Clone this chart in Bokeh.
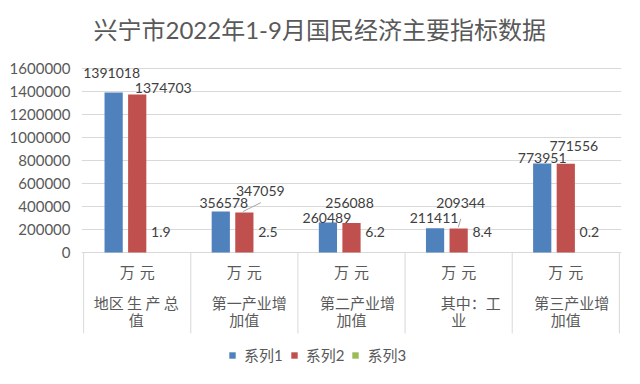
from bokeh.plotting import figure
from bokeh.models import (ColumnDataSource, FactorRange, Range1d, FixedTicker,
                          NumeralTickFormatter, Legend, LegendItem, Title)
from bokeh.transform import dodge
from bokeh.core.properties import value
from bokeh.embed import file_html
from bokeh.resources import INLINE

# ---------------- data ----------------
TITLE = "兴宁市2022年1-9月国民经济主要指标数据"
CATS = ["地区生产总值", "第一产业增加值", "第二产业增加值", "其中：工业", "第三产业增加值"]
UNITS = ["万\u2004元"] * 5
CAT_LINE1 = ["地区 生 产 总", "第一产业增", "第二产业增", "其中：工", "第三产业增"]
CAT_LINE2 = ["值", "加值", "加值", "业", "加值"]
SERIES_NAMES = ["系列1", "系列2", "系列3"]
S1 = [1391018, 356578, 260489, 211411, 773951]
S2 = [1374703, 347059, 256088, 209344, 771556]
S3 = [1.9, 2.5, 6.2, 8.4, 0.2]
YTICKS = [0, 200000, 400000, 600000, 800000, 1000000, 1200000, 1400000, 1600000]

# ---------------- style / layout ----------------
COLORS = ["#4f81bd", "#c0504d", "#9bbb59"]
TEXT = "#595959"
LABEL = "#404040"
GRID = "#d9d9d9"
NUM_FONT = "Lato"
CJK_FONT = "Noto Sans CJK SC"
MIX_FONT = "Lato, 'Noto Sans CJK SC'"

W, H = 624, 368
B_LEFT, B_RIGHT, B_TOP, B_BOTTOM = 81, 3, 60, 0
PLOT_PX = 184          # pixels from 0 to top tick
TOP_PAD_PX = 8
FRAME_H = H - B_TOP - B_BOTTOM
UPP = YTICKS[-1] / PLOT_PX
Y_END = YTICKS[-1] + TOP_PAD_PX * UPP
Y_START = -(FRAME_H - PLOT_PX - TOP_PAD_PX) * UPP

OFFS = [-0.22, 0.0, 0.22]
BAR_W = 0.17
# label pixel offsets (relative to bar top centre)
DX = [[-2, 3, -1, -1, 0], [26, 16, -2, 2, 8], [0, 0, 0, 0, 0]]
DY = [[-20, -8, -5, -10, -5], [-6, -22, -20, -25, -18], [-20, -20, -20, -20, -20]]
# leader lines on series 2 (pixel offsets from bar top centre)
LEAD_IDX = [1, 3]
LEAD_PX = [(-1.4, -1, 16.6, -10), (-0.3, -1.2, 2.1, -9.6)]
CAT_PX = (W - B_LEFT - B_RIGHT) / (len(CATS) + 0.02)

UNIT_DY = 19
L1_DY, L2_DY = 50, 67
L1_DX = [-1, 5, 6, 12, 6]
L2_DX = [-1, 0, 0, 0, 0]
SEP_PX = 81

p = figure(width=W, height=H, output_backend="svg", toolbar_location=None,
           x_range=FactorRange(factors=CATS, range_padding=0.02, range_padding_units="absolute"),
           y_range=Range1d(Y_START, Y_END), x_axis_location=None,
           min_border_left=B_LEFT, min_border_right=B_RIGHT,
           min_border_top=B_TOP, min_border_bottom=B_BOTTOM)
p.outline_line_color = None
p.background_fill_color = "white"
p.border_fill_color = "white"

title = Title(text=TITLE, align="left", offset=12, vertical_align="top", standoff=29,
              text_font=MIX_FONT, text_font_size="24px", text_font_style="normal",
              text_color=TEXT, text_line_height=1.0)
p.title = title

p.xgrid.visible = False
p.ygrid.ticker = FixedTicker(ticks=YTICKS)
p.ygrid.grid_line_color = GRID
p.yaxis.ticker = FixedTicker(ticks=YTICKS)
p.yaxis.formatter = NumeralTickFormatter(format="0")
p.yaxis.axis_line_color = None
p.yaxis.major_tick_line_color = None
p.yaxis.minor_tick_line_color = None
p.yaxis.major_tick_out = 0
p.yaxis.major_label_standoff = 11
p.yaxis.major_label_text_font = NUM_FONT
p.yaxis.major_label_text_font_size = "15px"
p.yaxis.major_label_text_color = TEXT

series = [S1, S2, S3]
renderers = []
for k, vals in enumerate(series):
    src = ColumnDataSource(dict(cat=CATS, v=vals, txt=[str(v) for v in vals],
                                dx=DX[k], dy=DY[k]))
    r = p.vbar(x=dodge("cat", OFFS[k], range=p.x_range), top="v", width=BAR_W,
               source=src, fill_color=COLORS[k], line_color=None)
    renderers.append(r)
    p.text(x=dodge("cat", OFFS[k], range=p.x_range), y="v", text="txt", source=src,
           x_offset="dx", y_offset="dy", text_align="center", text_baseline="middle",
           text_font=value(NUM_FONT), text_font_size="14px", text_color=LABEL)

# leader lines
for j, i in enumerate(LEAD_IDX):
    a, b, c, d = LEAD_PX[j]
    p.segment(x0=dodge("c", OFFS[1] + a / CAT_PX, range=p.x_range), y0="y0",
              x1=dodge("c", OFFS[1] + c / CAT_PX, range=p.x_range), y1="y1",
              source=ColumnDataSource(dict(c=[CATS[i]], y0=[S2[i] - b * UPP], y1=[S2[i] - d * UPP])),
              line_color="#a6a6a6", line_width=1)

# category axis (multi-level table style)
n = len(CATS)
bounds = list(range(n + 1))
p.segment(x0=bounds, y0=[0] * (n + 1), x1=bounds, y1=[-SEP_PX * UPP] * (n + 1),
          line_color=GRID, line_width=1)
csrc = ColumnDataSource(dict(cat=CATS, unit=UNITS, l1=CAT_LINE1, l2=CAT_LINE2,
                             z=[0] * n, d1=L1_DX, d2=L2_DX))
for col, dy, dx in (("unit", UNIT_DY, 0), ("l1", L1_DY, "d1"), ("l2", L2_DY, "d2")):
    p.text(x="cat", y="z", text=col, source=csrc, x_offset=dx, y_offset=dy,
           text_align="center", text_baseline="middle",
           text_font=value(CJK_FONT), text_font_size="15px", text_color=TEXT)

legend = Legend(items=[LegendItem(label=SERIES_NAMES[k], renderers=[renderers[k]]) for k in range(3)],
                orientation="horizontal", location=(147, 3))
legend.label_text_font = MIX_FONT
legend.label_text_font_size = "15px"
legend.label_text_color = TEXT
legend.glyph_width = 8
legend.glyph_height = 8
legend.label_standoff = 8
legend.spacing = 7
legend.padding = 0
legend.margin = 0
legend.label_height = 16
legend.border_line_color = None
legend.background_fill_alpha = 0
p.add_layout(legend)

open("out.html", "w").write(file_html(p, INLINE, title="chart"))
